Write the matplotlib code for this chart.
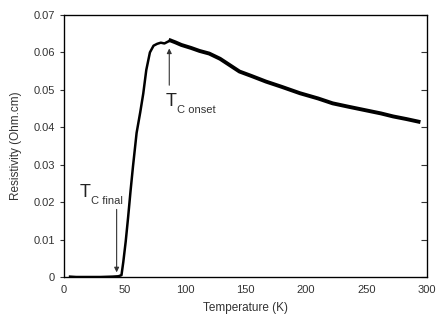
import numpy as np
import matplotlib.pyplot as plt
from matplotlib.ticker import FuncFormatter

plt.rcParams['font.family'] = ['Liberation Sans', 'DejaVu Sans']

# Resistivity vs temperature
temp = [5, 10, 20, 30, 40, 45, 47.5, 49, 51, 53, 55, 57, 60, 63, 65.5, 68, 71, 74,
        77, 80, 83, 86, 88, 92, 97, 105, 112, 120, 129, 137, 145, 155, 167,
        180, 195, 210, 222, 235, 250, 262, 272, 283, 293]
resist = [0.0001, 0.0, 0.0, 0.0, 0.0001, 0.0002, 0.0005, 0.004, 0.0095, 0.016,
          0.023, 0.0295, 0.0385, 0.044, 0.049, 0.0553, 0.0600, 0.0618, 0.0623,
          0.0626, 0.0624, 0.0629, 0.0632, 0.0627, 0.0620, 0.0612, 0.0604, 0.0597,
          0.0583, 0.0566, 0.0549, 0.0537, 0.0522, 0.0508, 0.0491, 0.0477, 0.0464,
          0.0455, 0.0445, 0.0437, 0.0429, 0.0422, 0.0415]

fig = plt.figure(figsize=(4.39, 3.24), dpi=100)
ax = fig.add_axes([64 / 439, 1 - 277 / 324, 363 / 439, 262 / 324])

# thinner through the transition, thicker (noisy) in the normal state
split = temp.index(88)
ax.plot(temp[:split + 1], resist[:split + 1], color='black', lw=1.8, solid_joinstyle='round')
ax.plot(temp[split:], resist[split:], color='black', lw=2.8, solid_joinstyle='round')

ax.set_xlim(0, 300)
ax.set_ylim(0, 0.07)
ax.set_xticks(np.arange(0, 301, 50))
ax.set_yticks(np.arange(0, 0.0701, 0.01))
ax.yaxis.set_major_formatter(FuncFormatter(lambda v, p: '0' if abs(v) < 1e-9 else '%.2f' % v))
ax.tick_params(axis='x', length=0, pad=6, labelsize=8, colors='#333333')
ax.tick_params(axis='y', direction='out', length=3, labelsize=8, colors='#333333')
for s in ax.spines.values():
    s.set_linewidth(0.9)

# right-hand ticks point inward
axr = ax.twinx()
axr.set_ylim(ax.get_ylim())
axr.set_yticks(ax.get_yticks())
axr.tick_params(axis='y', direction='in', length=4, labelright=False, colors='#333333')

ax.set_xlabel('Temperature (K)', fontsize=8.5, color='#333333', labelpad=5)
ax.set_ylabel('Resistivity (Ohm.cm)', fontsize=8.5, color='#333333', labelpad=8)

# annotations
ax.annotate('', xy=(43.5, 0.0005), xytext=(43.5, 0.0188),
            arrowprops=dict(arrowstyle='-|>', color='#333333', lw=0.8, mutation_scale=7))
ax.text(13, 0.0215, 'T', fontsize=13, color='#222222')
ax.text(22, 0.0195, 'C final', fontsize=8, color='#333333')

ax.annotate('', xy=(87, 0.0618), xytext=(87, 0.0505),
            arrowprops=dict(arrowstyle='-|>', color='#333333', lw=0.8, mutation_scale=7))
ax.text(84, 0.0458, 'T', fontsize=13, color='#222222')
ax.text(93, 0.0437, 'C onset', fontsize=8, color='#333333')

plt.savefig('out.png', dpi=100)
